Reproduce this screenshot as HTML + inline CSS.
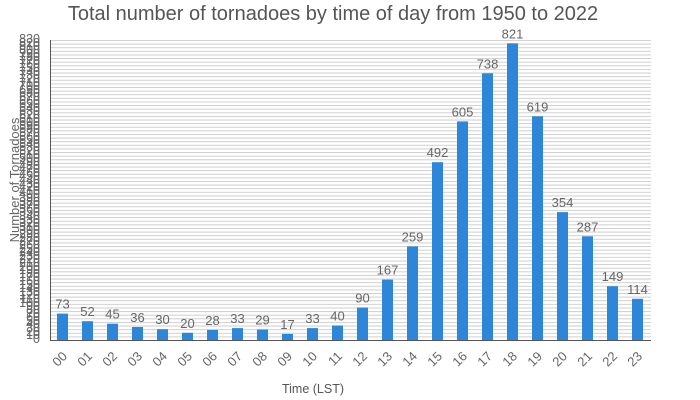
<!DOCTYPE html>
<html><head><meta charset="utf-8"><style>
html,body{margin:0;padding:0;background:#fff;width:700px;height:400px;overflow:hidden}
svg{position:absolute;left:0;top:0}
#yl{position:absolute;right:660px;top:38.2px;font:12.5px "Liberation Sans",sans-serif;color:#666;text-align:right;line-height:3.614px}
#yl div{height:3.614px}
</style></head><body>
<svg width="700" height="400" font-family="Liberation Sans, sans-serif">
<defs><pattern id="g" x="0" y="40" width="10" height="3.6145" patternUnits="userSpaceOnUse"><line x1="0" y1="0.5" x2="10" y2="0.5" stroke="#cfcfcf" stroke-width="1"/></pattern></defs>
<rect x="50" y="39.5" width="601" height="300" fill="url(#g)"/>
<text x="333" y="20" font-size="20" fill="#555" text-anchor="middle">Total number of tornadoes by time of day from 1950 to 2022</text>
<g fill="#2e86d9">
<rect x="57" y="313.6" width="11" height="26.4"/>
<rect x="82" y="321.2" width="11" height="18.8"/>
<rect x="107" y="323.7" width="11" height="16.3"/>
<rect x="132" y="327" width="11" height="13"/>
<rect x="157" y="329.2" width="11" height="10.8"/>
<rect x="182" y="332.8" width="11" height="7.2"/>
<rect x="207" y="329.9" width="11" height="10.1"/>
<rect x="232" y="328.1" width="11" height="11.9"/>
<rect x="257" y="329.5" width="11" height="10.5"/>
<rect x="282" y="333.9" width="11" height="6.1"/>
<rect x="307" y="328.1" width="11" height="11.9"/>
<rect x="332" y="325.5" width="11" height="14.5"/>
<rect x="357" y="307.5" width="11" height="32.5"/>
<rect x="382" y="279.6" width="11" height="60.4"/>
<rect x="407" y="246.4" width="11" height="93.6"/>
<rect x="432" y="162.2" width="11" height="177.8"/>
<rect x="457" y="121.4" width="11" height="218.6"/>
<rect x="482" y="73.3" width="11" height="266.7"/>
<rect x="507" y="43.3" width="11" height="296.7"/>
<rect x="532" y="116.3" width="11" height="223.7"/>
<rect x="557" y="212.1" width="11" height="127.9"/>
<rect x="582" y="236.3" width="11" height="103.7"/>
<rect x="607" y="286.2" width="11" height="53.8"/>
<rect x="632" y="298.8" width="11" height="41.2"/>
</g>
<line x1="50.5" y1="40" x2="50.5" y2="340" stroke="#555"/>
<line x1="50" y1="340.5" x2="651" y2="340.5" stroke="#555"/>
<g font-size="13" fill="#666" text-anchor="middle">
<text x="62.5" y="308.6">73</text><text x="87.5" y="316.2">52</text><text x="112.5" y="318.7">45</text><text x="137.5" y="322">36</text><text x="162.5" y="324.2">30</text><text x="187.5" y="327.8">20</text><text x="212.5" y="324.9">28</text><text x="237.5" y="323.1">33</text><text x="262.5" y="324.5">29</text><text x="287.5" y="328.9">17</text><text x="312.5" y="323.1">33</text><text x="337.5" y="320.5">40</text><text x="362.5" y="302.5">90</text><text x="387.5" y="274.6">167</text><text x="412.5" y="241.4">259</text><text x="437.5" y="157.2">492</text><text x="462.5" y="116.4">605</text><text x="487.5" y="68.3">738</text><text x="512.5" y="38.3">821</text><text x="537.5" y="111.3">619</text><text x="562.5" y="207.1">354</text><text x="587.5" y="231.3">287</text><text x="612.5" y="281.2">149</text><text x="637.5" y="293.8">114</text>
</g>
<g font-size="13" fill="#666" text-anchor="end">
<text transform="translate(68,357) rotate(-45)">00</text><text transform="translate(93,357) rotate(-45)">01</text><text transform="translate(118,357) rotate(-45)">02</text><text transform="translate(143,357) rotate(-45)">03</text><text transform="translate(168,357) rotate(-45)">04</text><text transform="translate(193,357) rotate(-45)">05</text><text transform="translate(218,357) rotate(-45)">06</text><text transform="translate(243,357) rotate(-45)">07</text><text transform="translate(268,357) rotate(-45)">08</text><text transform="translate(293,357) rotate(-45)">09</text><text transform="translate(318,357) rotate(-45)">10</text><text transform="translate(343,357) rotate(-45)">11</text><text transform="translate(368,357) rotate(-45)">12</text><text transform="translate(393,357) rotate(-45)">13</text><text transform="translate(418,357) rotate(-45)">14</text><text transform="translate(443,357) rotate(-45)">15</text><text transform="translate(468,357) rotate(-45)">16</text><text transform="translate(493,357) rotate(-45)">17</text><text transform="translate(518,357) rotate(-45)">18</text><text transform="translate(543,357) rotate(-45)">19</text><text transform="translate(568,357) rotate(-45)">20</text><text transform="translate(593,357) rotate(-45)">21</text><text transform="translate(618,357) rotate(-45)">22</text><text transform="translate(643,357) rotate(-45)">23</text>
</g>
<text x="313" y="393" font-size="12.5" fill="#555" text-anchor="middle">Time (LST)</text>
<text transform="translate(19,180) rotate(-90)" font-size="13" fill="#666" text-anchor="middle">Number of Tornadoes</text>
</svg>
<div id="yl"><div>830</div><div>820</div><div>810</div><div>800</div><div>790</div><div>780</div><div>770</div><div>760</div><div>750</div><div>740</div><div>730</div><div>720</div><div>710</div><div>700</div><div>690</div><div>680</div><div>670</div><div>660</div><div>650</div><div>640</div><div>630</div><div>620</div><div>610</div><div>600</div><div>590</div><div>580</div><div>570</div><div>560</div><div>550</div><div>540</div><div>530</div><div>520</div><div>510</div><div>500</div><div>490</div><div>480</div><div>470</div><div>460</div><div>450</div><div>440</div><div>430</div><div>420</div><div>410</div><div>400</div><div>390</div><div>380</div><div>370</div><div>360</div><div>350</div><div>340</div><div>330</div><div>320</div><div>310</div><div>300</div><div>290</div><div>280</div><div>270</div><div>260</div><div>250</div><div>240</div><div>230</div><div>220</div><div>210</div><div>200</div><div>190</div><div>180</div><div>170</div><div>160</div><div>150</div><div>140</div><div>130</div><div>120</div><div>110</div><div>100</div><div>90</div><div>80</div><div>70</div><div>60</div><div>50</div><div>40</div><div>30</div><div>20</div><div>10</div><div>0</div></div>
</body></html>
